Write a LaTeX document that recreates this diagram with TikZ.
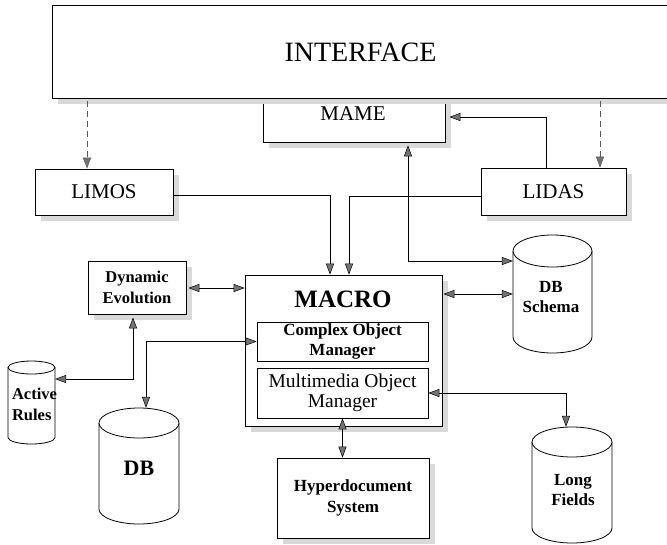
\documentclass[tikz,border=0pt]{standalone}
\usepackage{fontspec}
\setmainfont{Liberation Serif}
\usetikzlibrary{arrows.meta,fit,shadows}

% database cylinder: centre x, top y, bottom y, x radius, y radius
\newcommand\cylpath[5]{%
  \draw[line width=0.8pt, fill=white] (#1-#4,#2+#5) -- (#1-#4,#3-#5)
    arc[start angle=180, end angle=0, x radius=#4, y radius=#5] -- (#1+#4,#2+#5);
  \draw[line width=0.8pt, fill=white] (#1,#2+#5) ellipse[x radius=#4, y radius=#5];}

\begin{document}
\begin{tikzpicture}[x=1pt, y=-1pt,
  >={Triangle[length=11pt, width=8pt, fill=black!55, line width=0.5pt]},
  box/.style={draw, line width=0.8pt, fill=white, inner sep=0pt, align=center},
  shad/.style={drop shadow={shadow xshift=6pt, shadow yshift=-6pt, fill=black!15, opacity=1}},
  area/.style={inner sep=0pt},
  con/.style={line width=0.8pt},
  dsh/.style={draw=black!65, line width=0.6pt, dash pattern=on 6pt off 4pt, ->},
  rfont/.style={font=\fontsize{21}{24}\selectfont},
  bfont/.style={font=\bfseries\fontsize{17}{20.5}\selectfont, align=center},
]
\useasboundingbox (0,0) rectangle (667,544);
\clip (0,0) rectangle (667,544);

% upper layer
\node[box, shad, minimum width=182, minimum height=52] (mame) at (354,116) {};
\node[rfont] (mamelbl) at (353,113.5) {MAME};
\node[box, shad, minimum width=668, minimum height=93] (interface) at (386,51.5) {};
\node[font=\fontsize{28}{32}\selectfont] (iflbl) at (360.5,52) {INTERFACE};

\node[box, shad, minimum width=138, minimum height=46, rfont] (limos) at (104,192) {LIMOS};
\node[box, shad, minimum width=145, minimum height=47, rfont] (lidas) at (553.5,191.5) {LIDAS};

% core
\node[box, shad, minimum width=98, minimum height=53, font=\bfseries\fontsize{16.5}{20.5}\selectfont] (de) at (137,287.5) {Dynamic\\Evolution};
\node[box, shad, minimum width=197, minimum height=151] (macro) at (343.5,350.5) {};
\node[font=\bfseries\fontsize{25}{28}\selectfont] (macrolbl) at (343,299) {MACRO};
\node[box, minimum width=171, minimum height=39, bfont] (complex) at (342.5,341.5) {Complex Object\\Manager};
\node[box, minimum width=171, minimum height=50, font=\fontsize{19.5}{20}\selectfont] (multi) at (342.5,393) {Multimedia Object\\Manager};
\node[box, shad, minimum width=152, minimum height=80, bfont] (hyper) at (353,498) {Hyperdocument\\System};

% databases
\cylpath{31.5}{361}{444}{23.5}{6.5}
\node[area, fit={(8,361) (55,444)}] (ar) {};
\node[font=\bfseries\fontsize{16.5}{21}\selectfont, align=left, anchor=west] (arlbl) at (8.5,404) {Active\\Rules};

\cylpath{139}{408}{524}{40}{15}
\node[area, fit={(99,408) (179,524)}] (db) {};
\node[font=\bfseries\fontsize{22}{26}\selectfont] (dblbl) at (139,468) {DB};

\cylpath{552.5}{235}{353}{39.5}{16}
\node[area, fit={(513,235) (592,353)}] (dbs) {};
\node[bfont] (dbslbl) at (551,297) {DB\\Schema};

\cylpath{572}{427}{543}{40}{15}
\node[area, fit={(532,427) (612,543)}] (lf) {};
\node[bfont] (lflbl) at (573,490) {Long\\Fields};

% interface calls
\draw[dsh] ([yshift=-3pt]interface.south -| 87,0) -- (limos.north -| 87,0);
\draw[dsh] ([yshift=-3pt]interface.south -| 600,0) -- (lidas.north -| 600,0);

% connectors
\draw[con, ->] (lidas.north -| 546,0) |- ([xshift=4pt]mame.east |- 0,117);
\draw[con, <->] ([yshift=-3pt]mame.south -| 408,0) |- (dbs.west |- 0,261);
\draw[con, ->] (limos.east |- 0,195) -| (macro.north -| 330,0);
\draw[con, ->] (lidas.west |- 0,196) -| (macro.north -| 349,0);
\draw[con, <->] ([xshift=1pt]macro.east |- 0,294) -- (dbs.west |- 0,294);
\draw[con, <->] ([xshift=2pt]de.east |- 0,288) -- (macro.west |- 0,288);
\draw[con, <->] ([yshift=-3pt]de.south -| 133,0) |- (ar.east |- 0,379);
\draw[con, <->] (db.north -| 146,0) |- (complex.west);
\draw[con, <->] (multi.east) -| (lf.north -| 566,0);
\draw[con, <->] (multi.south) -- (multi.south |- hyper.north);
\end{tikzpicture}
\end{document}
